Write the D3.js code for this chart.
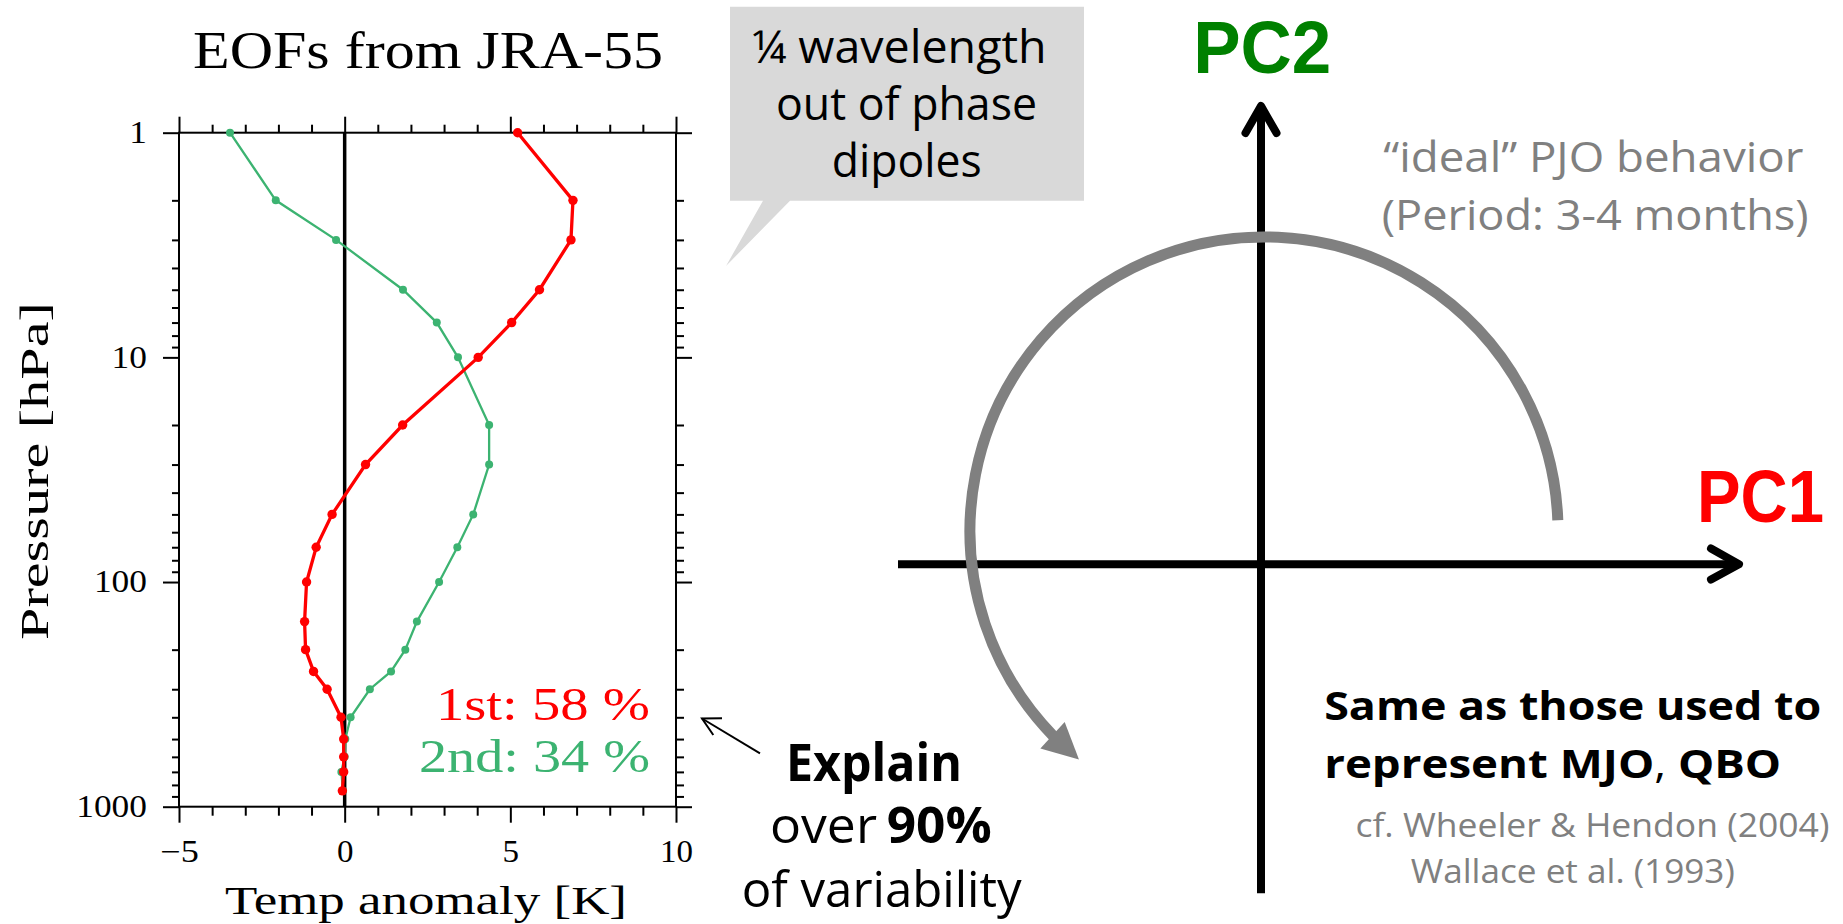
<!DOCTYPE html>
<html><head><meta charset="utf-8">
<script src="https://cdn.jsdelivr.net/npm/d3@7"></script>
<style>body{margin:0;background:#fff}svg{display:block;background:#fff}</style>
</head><body><svg id="c" width="1843" height="924"></svg>
<script>
// ---- data ----
const levels = [1, 2, 3, 5, 7, 10, 20, 30, 50, 70, 100, 150, 200, 250, 300, 400, 500, 600, 700, 850];
const eof1 = [5.22, 6.89, 6.83, 5.88, 5.04, 4.03, 1.75, 0.63, -0.38, -0.86, -1.15, -1.21, -1.18, -0.94, -0.53, -0.11, -0.03, -0.03, -0.03, -0.07];
const eof2 = [-3.46, -2.08, -0.26, 1.76, 2.78, 3.42, 4.36, 4.36, 3.88, 3.40, 2.85, 2.18, 1.83, 1.40, 0.76, 0.18, 0.02, 0.00, -0.10, -0.05];
const seriesLabels = ["1st: 58 %", "2nd: 34 %"];
const xMajorTicks = [-5, 0, 5, 10];
const yMajorTicks = [1, 10, 100, 1000];
const chartTitle = "EOFs from JRA-55";
const xTitle = "Temp anomaly [K]";
const yTitle = "Pressure [hPa]";

const svg = d3.select("#c");
const serif = "'Liberation Serif', 'DejaVu Serif', serif";
const sans = "'Open Sans', 'Noto Sans', sans-serif";
const RED = "#ff0000", GREEN = "#3cb371";

// ---- scales ----
const x = d3.scaleLinear().domain([-5, 10]).range([179, 676]);
const y = d3.scaleLog().domain([1, 1000]).range([132.7, 806.7]);

const xMinor = d3.range(-5, 11).filter(v => !xMajorTicks.includes(v));
const yMinor = [];
[1, 10, 100].forEach(d => { for (let m = 2; m <= 9; m++) yMinor.push(d * m); });

function styleAxis(g) {
  g.select(".domain").remove();
  g.selectAll(".tick line").attr("stroke", "#000").attr("stroke-width", 2);
  g.attr("font-family", serif).attr("font-size", 31);
  g.selectAll("text").attr("fill", "#000");
}
const plot = svg.append("g");
plot.append("g").attr("transform", `translate(${x.range()[0]},0)`)
  .call(d3.axisLeft(y).tickValues(yMajorTicks).tickSize(16).tickPadding(16).tickFormat(d3.format("d"))).call(styleAxis)
  .selectAll("text").attr("textLength", d => String(d).length * 17.7).attr("lengthAdjust", "spacingAndGlyphs");
plot.append("g").attr("transform", `translate(${x.range()[0]},0)`)
  .call(d3.axisLeft(y).tickValues(yMinor).tickSize(7).tickFormat("")).call(styleAxis);
plot.append("g").attr("transform", `translate(${x.range()[1]},0)`)
  .call(d3.axisRight(y).tickValues(yMajorTicks).tickSize(16).tickFormat("")).call(styleAxis);
plot.append("g").attr("transform", `translate(${x.range()[1]},0)`)
  .call(d3.axisRight(y).tickValues(yMinor).tickSize(8).tickFormat("")).call(styleAxis);
plot.append("g").attr("transform", `translate(0,${y.range()[1]})`)
  .call(d3.axisBottom(x).tickValues(xMajorTicks).tickSize(16).tickPadding(17)).call(styleAxis)
  .selectAll("text").attr("textLength", d => String(Math.abs(d)).length * 16.5 + (d < 0 ? 22 : 0)).attr("lengthAdjust", "spacingAndGlyphs");
plot.append("g").attr("transform", `translate(0,${y.range()[1]})`)
  .call(d3.axisBottom(x).tickValues(xMinor).tickSize(9).tickFormat("")).call(styleAxis);
plot.append("g").attr("transform", `translate(0,${y.range()[0]})`)
  .call(d3.axisTop(x).tickValues(xMajorTicks).tickSize(16).tickFormat("")).call(styleAxis);
plot.append("g").attr("transform", `translate(0,${y.range()[0]})`)
  .call(d3.axisTop(x).tickValues(xMinor).tickSize(8).tickFormat("")).call(styleAxis);

// frame
plot.append("rect").attr("x", x.range()[0]).attr("y", y.range()[0])
  .attr("width", x.range()[1] - x.range()[0]).attr("height", y.range()[1] - y.range()[0])
  .attr("fill", "none").attr("stroke", "#000").attr("stroke-width", 2);
// zero line
plot.append("line").attr("x1", x(0)).attr("x2", x(0)).attr("y1", y(1)).attr("y2", y(1000))
  .attr("stroke", "#000").attr("stroke-width", 3.5);

// series
const s1 = levels.map((p, i) => ({p, v: eof1[i]}));
const s2 = levels.map((p, i) => ({p, v: eof2[i]}));
const line = d3.line().x(d => x(d.v)).y(d => y(d.p));
plot.append("path").datum(s2).attr("d", line).attr("fill", "none").attr("stroke", GREEN).attr("stroke-width", 2.3);
plot.append("g").selectAll("circle").data(s2).join("circle")
  .attr("cx", d => x(d.v)).attr("cy", d => y(d.p)).attr("r", 4).attr("fill", GREEN);
plot.append("path").datum(s1).attr("d", line).attr("fill", "none").attr("stroke", RED).attr("stroke-width", 3.3);
plot.append("g").selectAll("circle").data(s1).join("circle")
  .attr("cx", d => x(d.v)).attr("cy", d => y(d.p)).attr("r", 4.7).attr("fill", RED);

// legend texts
plot.append("text").attr("x", 650).attr("y", 720).attr("text-anchor", "end")
  .attr("font-family", serif).attr("font-size", 46).attr("fill", RED)
  .attr("textLength", 214).attr("lengthAdjust", "spacingAndGlyphs").text(seriesLabels[0]);
plot.append("text").attr("x", 650).attr("y", 771.7).attr("text-anchor", "end")
  .attr("font-family", serif).attr("font-size", 46).attr("fill", GREEN)
  .attr("textLength", 231).attr("lengthAdjust", "spacingAndGlyphs").text(seriesLabels[1]);

// titles
plot.append("text").attr("x", 193).attr("y", 68).attr("font-family", serif).attr("font-size", 52)
  .attr("textLength", 470).attr("lengthAdjust", "spacingAndGlyphs").text(chartTitle);
plot.append("text").attr("x", 225).attr("y", 914).attr("font-family", serif).attr("font-size", 41)
  .attr("textLength", 402).attr("lengthAdjust", "spacingAndGlyphs").text(xTitle);
plot.append("text").attr("transform", "translate(48,640) rotate(-90)").attr("font-family", serif).attr("font-size", 41)
  .attr("textLength", 338).attr("lengthAdjust", "spacingAndGlyphs").text(yTitle);

// ---- annotations ----
function txt(str, tx, ty, len, opts = {}) {
  const t = svg.append("text").attr("x", tx).attr("y", ty)
    .attr("font-family", opts.family || sans).attr("font-size", opts.size || 46)
    .attr("font-weight", opts.weight || "normal").attr("fill", opts.fill || "#000");
  if (len) t.attr("textLength", len).attr("lengthAdjust", "spacingAndGlyphs");
  t.text(str);
  return t;
}

// callout bubble
svg.append("path").attr("d", "M730,6.7 L1084,6.7 L1084,200.7 L790,200.7 L726,266 L763,200.7 L730,200.7 Z")
  .attr("fill", "#d9d9d9");
txt("\u00BC wavelength", 751.7, 63.3, 295, {size: 46});
txt("out of phase", 776, 120, 261, {size: 46});
txt("dipoles", 831.7, 176.7, 150, {size: 46});

// Explain text + small arrow
txt("Explain", 786, 781, 176, {size: 52, weight: "bold"});
txt("over", 770, 842.7, 107, {size: 50});
txt("90%", 886.7, 842.7, 105, {size: 50, weight: "bold"});
txt("of variability", 741.7, 906.7, 280, {size: 50});
svg.append("line").attr("x1", 760).attr("y1", 753.3).attr("x2", 702).attr("y2", 718.5)
  .attr("stroke", "#000").attr("stroke-width", 2);
svg.append("path").attr("d", "M722,718.3 L702,718.5 L713.3,735").attr("fill", "none")
  .attr("stroke", "#000").attr("stroke-width", 2);

// phase diagram axes
const axW = 8;
svg.append("line").attr("x1", 898).attr("y1", 564.2).attr("x2", 1739).attr("y2", 564.2)
  .attr("stroke", "#000").attr("stroke-width", axW);
svg.append("path").attr("d", "M1711,548.5 L1739,564.2 L1711,579.5").attr("fill", "none")
  .attr("stroke", "#000").attr("stroke-width", axW).attr("stroke-linecap", "round").attr("stroke-linejoin", "round");
svg.append("line").attr("x1", 1261).attr("y1", 893.3).attr("x2", 1261).attr("y2", 106)
  .attr("stroke", "#000").attr("stroke-width", axW);
svg.append("path").attr("d", "M1245.5,133 L1261,106 L1276.5,133").attr("fill", "none")
  .attr("stroke", "#000").attr("stroke-width", axW).attr("stroke-linecap", "round").attr("stroke-linejoin", "round");

// ideal circular arrow
const cx = 1264, cy = 531, r = 294;
const deg = Math.PI / 180;
const a0 = -2.1 * deg, aEnd = -224 * deg, aTip = -231 * deg;
const p = d3.path();
p.moveTo(cx + r * Math.cos(a0), cy + r * Math.sin(a0));
p.arc(cx, cy, r, a0, aEnd - 0.5 * deg, true);
svg.append("path").attr("d", p.toString()).attr("fill", "none").attr("stroke", "#808080").attr("stroke-width", 11);
const B = [cx + r * Math.cos(aEnd), cy + r * Math.sin(aEnd)];
const T = [cx + r * Math.cos(aTip), cy + r * Math.sin(aTip)];
const dx = T[0] - B[0], dy = T[1] - B[1], L = Math.hypot(dx, dy);
const nx = -dy / L, ny = dx / L, hw = 18;
svg.append("path").attr("d", `M${T[0]},${T[1]} L${B[0] + nx * hw},${B[1] + ny * hw} L${B[0] - nx * hw},${B[1] - ny * hw} Z`)
  .attr("fill", "#808080");

// PC labels
txt("PC2", 1193.3, 72.7, 138, {family: "'Liberation Sans', Arial, sans-serif", size: 75, weight: "bold", fill: "#008000"});
txt("PC1", 1697, 521.7, 127, {family: "'Liberation Sans', Arial, sans-serif", size: 75, weight: "bold", fill: "#ff0000"});

// gray notes
txt("\u201Cideal\u201D PJO behavior", 1383.3, 171.5, 420, {size: 42, fill: "#808080"});
txt("(Period: 3-4 months)", 1381.7, 229.5, 427, {size: 42, fill: "#808080"});

// bottom right texts
txt("Same as those used to", 1324.2, 720, 497, {size: 40, weight: "bold"});
const rep = svg.append("text").attr("x", 1324.2).attr("y", 778.3).attr("font-family", sans).attr("font-size", 40)
  .attr("fill", "#000").attr("textLength", 457).attr("lengthAdjust", "spacingAndGlyphs");
rep.append("tspan").attr("font-weight", "bold").text("represent MJO");
rep.append("tspan").attr("font-weight", "normal").text(",");
rep.append("tspan").attr("font-weight", "bold").text(" QBO");
txt("cf. Wheeler & Hendon (2004)", 1355.4, 836.7, 474, {size: 33, fill: "#808080"});
txt("Wallace et al. (1993)", 1410.8, 883.3, 324, {size: 33, fill: "#808080"});
</script></body></html>
